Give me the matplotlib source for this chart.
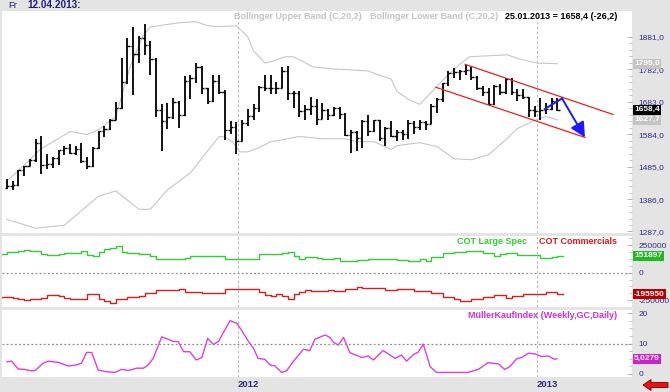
import matplotlib
matplotlib.use("Agg")
import matplotlib.pyplot as plt
import matplotlib.transforms as mtransforms
from matplotlib.patches import Polygon
from matplotlib.ticker import FixedLocator, MultipleLocator

W, H = 670, 392

# weekly gold bars, Fridays 25.03.2011 .. 25.01.2013 (index 0..96)
opens = [1420, 1427, 1430, 1474, 1486, 1504, 1556, 1491, 1492, 1510, 1536, 1542, 1528, 1539, 1501, 1486, 1542, 1594, 1601, 1628,
         1663, 1744, 1852, 1828, 1877, 1857, 1813, 1658, 1624, 1636, 1682, 1642, 1745, 1755, 1788, 1724, 1685, 1746, 1712, 1598, 1606,
         1564, 1617, 1639, 1665, 1727, 1725, 1725, 1724, 1776, 1711, 1711, 1656, 1662, 1669, 1631, 1659, 1642, 1663, 1644, 1580,
         1592, 1573, 1623, 1593, 1627, 1572, 1604, 1578, 1590, 1584, 1619, 1605, 1620, 1616, 1671, 1690, 1740, 1772, 1773, 1776,
         1780, 1758, 1724, 1712, 1676, 1730, 1713, 1751, 1712, 1702, 1696, 1657,
         1656, 1657, 1662, 1684.6]
highs = [1447, 1440, 1476, 1487, 1509, 1569, 1577, 1523, 1513, 1537, 1549, 1553, 1548, 1557, 1513, 1544, 1595, 1610, 1631, 1682,
         1817, 1877, 1912, 1883, 1921, 1868, 1816, 1675, 1680, 1695, 1686, 1760, 1766, 1802, 1791, 1724, 1765, 1763, 1718, 1625, 1620,
         1627, 1660, 1676, 1730, 1764, 1763, 1743, 1790, 1792, 1717, 1717, 1672, 1697, 1691, 1680, 1660, 1667, 1668, 1648, 1597,
         1593, 1627, 1641, 1628, 1628, 1605, 1624, 1597, 1597, 1628, 1625, 1627, 1624, 1675, 1693, 1741, 1778, 1787, 1781, 1796,
         1790, 1760, 1730, 1725, 1735, 1738, 1754, 1754, 1723, 1723, 1697, 1669,
         1693, 1680, 1694, 1694]
lows = [1416, 1414, 1426, 1456, 1486, 1500, 1462, 1478, 1481, 1491, 1520, 1524, 1519, 1495, 1478, 1483, 1540, 1576, 1597, 1627,
        1660, 1737, 1705, 1800, 1825, 1764, 1636, 1532, 1600, 1630, 1603, 1640, 1692, 1740, 1706, 1676, 1683, 1706, 1565, 1585, 1523,
        1562, 1608, 1628, 1652, 1716, 1707, 1706, 1724, 1688, 1663, 1636, 1627, 1642, 1612, 1630, 1626, 1638, 1631, 1577, 1527,
        1532, 1543, 1579, 1590, 1564, 1548, 1575, 1564, 1567, 1570, 1585, 1598, 1598, 1614, 1648, 1683, 1730, 1754, 1749, 1765,
        1750, 1718, 1700, 1672, 1673, 1705, 1707, 1705, 1685, 1690, 1636, 1635,
        1626, 1645, 1659, 1655]
closes = [1427, 1429, 1474, 1486, 1504, 1556, 1491, 1492, 1510, 1536, 1542, 1528, 1539, 1501, 1486, 1542, 1594, 1601, 1628, 1663,
          1744, 1852, 1828, 1877, 1857, 1813, 1658, 1624, 1636, 1682, 1642, 1745, 1755, 1788, 1724, 1685, 1746, 1712, 1598, 1606, 1564,
          1617, 1639, 1665, 1727, 1725, 1725, 1724, 1776, 1711, 1711, 1656, 1662, 1669, 1631, 1659, 1642, 1663, 1644, 1580, 1592,
          1573, 1623, 1593, 1627, 1572, 1604, 1578, 1590, 1584, 1619, 1605, 1620, 1616, 1671, 1690, 1740, 1772, 1773, 1776, 1780,
          1758, 1724, 1712, 1676, 1730, 1713, 1751, 1712, 1702, 1696, 1657, 1656,
          1657, 1662, 1684.6, 1658.4]

# Bollinger bands (C,20,2)
bb_up_x = [0, 3, 6, 11, 14, 16, 19, 20.6, 21.5, 23.7, 25, 30, 33, 35, 37, 40, 42, 43, 45, 46.4, 48.5, 50, 53.4, 57, 63,
           64.5, 67, 68, 70, 72, 75, 76.7, 79, 80.7, 83.7, 87.2, 89.5, 92.4, 96]
bb_up = [1441, 1490, 1540, 1592, 1583, 1598, 1638, 1736, 1791, 1883, 1911, 1924, 1927, 1915, 1912, 1915, 1881, 1838, 1801,
         1807, 1820, 1820, 1789, 1783, 1777, 1767, 1752, 1715, 1690, 1675, 1730, 1761, 1798, 1820, 1823, 1826, 1813, 1801, 1799.0]
bb_lo_x = [0, 5, 10, 16, 19, 23, 25, 28, 32, 35, 37, 38, 39.4, 40.6, 42, 44, 46, 48, 51, 55, 59, 61, 64, 67, 68, 72, 75,
           78, 81, 84, 87, 89, 92, 94, 96]
bb_lo = [1324, 1297, 1306, 1395, 1411, 1355, 1355, 1414, 1466, 1533, 1577, 1575, 1560, 1530, 1530, 1543, 1561, 1567, 1577,
         1570, 1570, 1561, 1561, 1537, 1549, 1558, 1546, 1509, 1506, 1521, 1567, 1601, 1626, 1638, 1627.7]

# trend channel and projection drawn on the chart
chan_up_x, chan_up_y = [79.9, 105.7], [1797, 1644]
chan_lo_x, chan_lo_y = [74.8, 100.8], [1727, 1574]
proj_x, proj_y = [93.8, 96.8, 100.8], [1661, 1693, 1574]

# COT positions (weekly steps)
spec_x = [-1, 0, 2, 3, 4, 6, 7, 9, 10, 12, 13, 14, 15, 16, 17, 18, 19, 20, 21, 23, 25, 26, 28, 30, 31, 32, 38, 44, 46, 47,
          48, 49, 50, 51, 52, 54, 55, 57, 58, 61, 63, 66, 68, 70, 72, 73, 74, 76, 78, 80, 82, 83, 85, 86, 87, 89, 93, 95, 96, 97]
spec = [167, 187, 196, 205, 196, 169, 157, 169, 181, 175, 196, 160, 151, 187, 212, 221, 242, 190, 181, 169, 151, 121, 127,
        121, 130, 151, 127, 166, 172, 168, 180, 187, 155, 127, 139, 133, 127, 133, 106, 115, 127, 121, 115, 106, 121, 106, 145,
        175, 187, 199, 196, 175, 151, 169, 181, 157, 133, 139, 151.897, 151.897]
comm_x = [-1, 1, 2, 3, 4, 6, 7, 9, 10, 11, 14, 16, 17, 18, 19, 21, 23, 24, 26, 30, 31, 34, 37, 38, 44, 45, 46, 47, 48, 49,
          50, 51, 52, 53, 55, 56, 57, 59, 61, 62, 66, 68, 71, 74, 76, 78, 79, 81, 83, 85, 87, 88, 90, 94, 96, 97]
comm = [-217, -232, -241, -247, -235, -226, -205, -211, -232, -238, -196, -238, -256, -271, -235, -217, -208, -187, -157,
        -151, -172, -187, -183, -151, -175, -202, -211, -193, -211, -238, -193, -175, -157, -166, -162, -157, -166, -145, -127,
        -142, -157, -150, -166, -181, -217, -238, -256, -241, -217, -205, -232, -215, -193, -172, -195.95, -195.95]

# MüllerKaufIndex
mk_x = [0.0, 0.8, 2.0, 3.1, 4.3, 4.9, 6.3, 7.2, 9.0, 10.7, 11.9, 13.0, 13.9, 14.8, 15.9, 17.4, 18.8, 20.0, 21.2, 22.6,
        23.8, 24.6, 25.5, 27.0, 28.1, 29.0, 29.9, 30.8, 31.9, 33.0, 34.0, 35.0, 36.0, 36.9, 38.9, 40.1, 40.9, 42.1, 43.0,
        43.8, 45.0, 45.9, 46.7, 47.9, 48.8, 49.9, 51.7, 52.8, 53.7, 55.5, 56.3, 57.0, 57.8, 58.7, 59.8, 61.9, 63.0, 63.9,
        65.6, 67.7, 68.8, 69.7, 70.9, 71.7, 72.6, 73.8, 74.9, 80.4, 82.2, 83.9, 85.7, 86.8, 87.7, 88.9, 89.8, 90.9, 92.1,
        93.2, 94.4, 95.5, 95.9]
mk = [4.0, 4.2, 1.6, 1.5, 1.0, 1.1, 3.5, 4.2, 3.8, 2.6, 2.9, 3.5, 7.1, 7.0, 1.3, 0.7, 0.5, 1.5, 1.1, 1.9,
      1.9, 2.9, 5.1, 12.2, 11.4, 10.7, 10.6, 7.3, 7.3, 4.6, 5.4, 11.7, 9.7, 10.7, 17.5, 16.6, 14.4, 10.7, 8.4,
      5.1, 4.8, 2.9, 2.7, 0.5, 1.1, 4.0, 8.1, 7.7, 11.4, 12.8, 12.0, 10.3, 9.5, 12.0, 7.0, 5.4, 5.9, 4.6,
      7.7, 5.1, 6.2, 4.2, 6.4, 7.1, 9.8, 2.4, 0.5, 0.5, 1.5, 3.7, 3.3, 1.5, 2.4, 5.0, 5.4, 6.8, 6.6,
      5.7, 5.9, 4.8, 5.0279]

year_x = [40.29, 92.43]
year_labels = ["2012", "2013"]
price_ticks = [1287, 1386, 1485, 1584, 1683, 1782, 1881]

plt.rcParams['font.family'] = ['Liberation Sans', 'DejaVu Sans']

fig = plt.figure(figsize=(W / 100, H / 100), dpi=100, facecolor='#e4e4e4')


def fx(x):
    return x / W


def fy(y):
    return 1 - y / H


def panel(top, bottom):
    ax = fig.add_axes([fx(2), fy(bottom), 630 / W, (bottom - top) / H])
    ax.set_facecolor('white')
    for s in ax.spines.values():
        s.set_visible(False)
    ax.set_xlim(-0.86, 109.0)
    ax.set_xticks([])
    ax.yaxis.tick_right()
    ax.tick_params(axis='y', which='major', direction='in', length=3.5, width=0.6,
                   colors='#a8a8a8', labelcolor='#2d2d96', labelsize=6, pad=4.5)
    ax.tick_params(axis='y', which='minor', direction='in', length=2, width=0.6, colors='#b8b8b8')
    for x in year_x:
        ax.axvline(x, color='#b4b4b4', lw=0.7, ls=(0, (2.5, 2.5)), zorder=0)
    return ax


def value_box(ax, val, txt, fc):
    ax.annotate(txt, xy=(1, val), xycoords=('axes fraction', 'data'), xytext=(1.5, 0),
                textcoords='offset points', ha='left', va='center', fontsize=6, fontweight='bold',
                color='white', annotation_clip=False,
                bbox=dict(boxstyle='square,pad=0.18', fc=fc, ec='none'))


# ---- price panel
ax1 = panel(11, 233)
ax1.set_ylim(1282.4, 1959.8)
ax1.yaxis.set_major_locator(FixedLocator(price_ticks))
ax1.set_yticklabels([f"{v:.1f}".replace('.', ',') for v in price_ticks])
ax1.yaxis.set_minor_locator(FixedLocator([1287 + 19.8 * k for k in range(31)]))

ax1.plot(bb_up_x, bb_up, color='#c6c6c6', lw=0.8)
ax1.plot(bb_lo_x, bb_lo, color='#c6c6c6', lw=0.8)

idx = list(range(len(closes)))
ax1.vlines(idx, lows, highs, color='black', lw=1.3)
ax1.hlines(opens, [i - 0.42 for i in idx], idx, color='black', lw=1.0)
ax1.hlines(closes, idx, [i + 0.42 for i in idx], color='black', lw=1.0)

ax1.plot(chan_up_x, chan_up_y, color='#e82020', lw=0.9)
ax1.plot(chan_lo_x, chan_lo_y, color='#e82020', lw=0.9)
ax1.plot(proj_x[:2], proj_y[:2], color='#1a1aff', lw=1.4)
ax1.annotate('', xy=(proj_x[2], proj_y[2]), xytext=(proj_x[1], proj_y[1]),
             arrowprops=dict(arrowstyle='-|>,head_length=0.9,head_width=0.45', color='#1a1aff',
                             lw=1.4, shrinkA=0, shrinkB=0, mutation_scale=10))

value_box(ax1, bb_up[-1], "1799,0", '#c4c4c4')
value_box(ax1, bb_lo[-1], "1627,7", '#c4c4c4')
value_box(ax1, closes[-1], "1658,4", '#000000')

# ---- COT panel
ax2 = panel(236, 307)
ax2.set_ylim(-310700, 332400)
ax2.yaxis.set_major_locator(FixedLocator([-250000, 0, 250000]))
ax2.set_yticklabels(["-250000", "0", "250000"])
ax2.yaxis.set_minor_locator(MultipleLocator(62500))
ax2.axhline(0, color='#8c8c8c', lw=0.9, ls=(0, (1.5, 1.8)), zorder=0)
ax2.plot(spec_x, [v * 1000 for v in spec], drawstyle='steps-post', color='#33cc33', lw=1.0)
ax2.plot(comm_x, [v * 1000 for v in comm], drawstyle='steps-post', color='#d42020', lw=1.0)
value_box(ax2, spec[-1] * 1000, "151897", '#22b822')
value_box(ax2, comm[-1] * 1000, "-195950", '#b80000')

# ---- MüllerKaufIndex panel
ax3 = panel(310, 377)
ax3.set_ylim(-1.0, 21.0)
ax3.yaxis.set_major_locator(FixedLocator([0, 10, 20]))
ax3.set_yticklabels(["0", "10", "20"])
ax3.yaxis.set_minor_locator(MultipleLocator(2.5))
ax3.axhline(10, color='#8c8c8c', lw=0.9, ls=(0, (1.5, 1.8)), zorder=0)
ax3.plot(mk_x, mk, color='#dd3fdd', lw=1.0)
value_box(ax3, mk[-1], "5,0279", '#cc22cc')

# ---- texts
fig.text(fx(8), fy(5.5), "Fr", color='#1f1f80', fontsize=6.8, va='center')
fig.text(fx(27), fy(5.5), "12.04.2013:", color='#1f1f80', fontsize=7.2, fontweight='bold', va='center')
fig.text(fx(362), fy(16.5), "Bollinger Upper Band (C,20,2)", color='#c4c4c4', fontsize=6.5,
         fontweight='bold', ha='right', va='center')
fig.text(fx(498), fy(16.5), "Bollinger Lower Band (C,20,2)", color='#c4c4c4', fontsize=6.5,
         fontweight='bold', ha='right', va='center')
fig.text(fx(617), fy(16.5), "25.01.2013 = 1658,4 (-26,2)", color='black', fontsize=6.5,
         fontweight='bold', ha='right', va='center')
fig.text(fx(527), fy(241), "COT Large Spec", color='#33cc33', fontsize=6.5, fontweight='bold',
         ha='right', va='center')
fig.text(fx(617), fy(241), "COT Commercials", color='#cc2020', fontsize=6.5, fontweight='bold',
         ha='right', va='center')
fig.text(fx(617), fy(315), "MüllerKaufIndex (Weekly,GC,Daily)", color='#cc33cc', fontsize=6.5,
         fontweight='bold', ha='right', va='center')

trans = mtransforms.blended_transform_factory(ax3.transData, fig.transFigure)
for x, lab in zip(year_x, year_labels):
    fig.text(x, fy(384.5), lab, transform=trans, color='#2d2d80', fontsize=6.8,
             fontweight='bold', ha='left', va='center')

arrow = Polygon([(fx(643), fy(385)), (fx(651), fy(379.5)), (fx(651), fy(382.5)), (fx(668), fy(382.5)),
                 (fx(668), fy(387.5)), (fx(651), fy(387.5)), (fx(651), fy(390.5))],
                closed=True, transform=fig.transFigure, fc='#ee1111', ec='#7a0000', lw=0.6)
fig.patches.append(arrow)

fig.savefig("out.png", dpi=100, facecolor=fig.get_facecolor())
